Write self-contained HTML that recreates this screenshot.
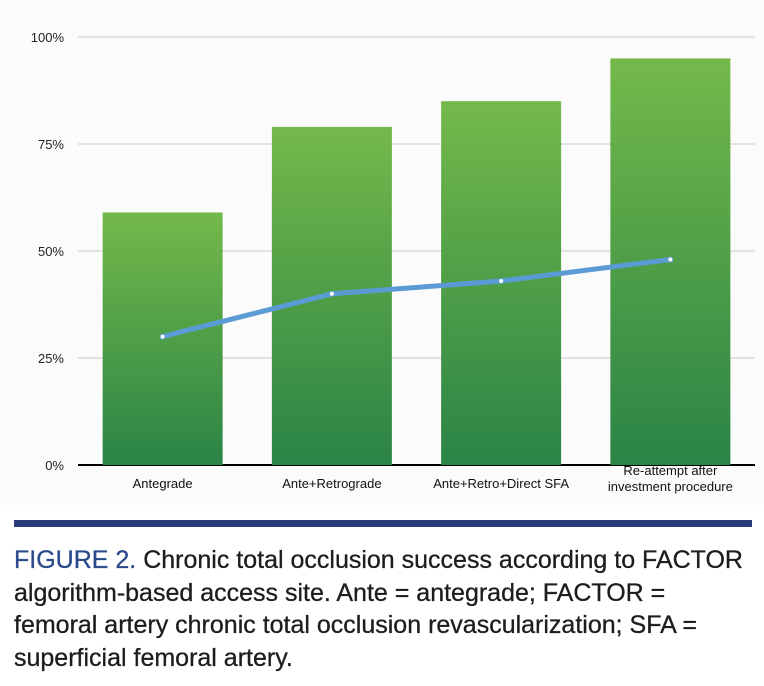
<!DOCTYPE html>
<html><head><meta charset="utf-8"><style>
body{margin:0;width:764px;height:686px;background:#fff;overflow:hidden;font-family:"Liberation Sans",sans-serif}
#chart{position:absolute;left:0;top:0}
#rule{position:absolute;left:14px;top:520px;width:738px;height:7px;background:#2b3b7a}
#cap{position:absolute;left:14px;top:544px;width:750px;font-size:25px;line-height:32.5px;color:#1d1d1d;white-space:nowrap;-webkit-text-stroke:0.3px #1d1d1d}
#cap b{color:#2b4a8b;font-weight:normal;-webkit-text-stroke:0.3px #2b4a8b}
</style></head><body>
<svg id="chart" width="764" height="510">
<defs><linearGradient id="g" x1="0" y1="0" x2="0" y2="1"><stop offset="0" stop-color="#74b94a"/><stop offset="1" stop-color="#2a8446"/></linearGradient></defs>
<rect x="0" y="0" width="764" height="505" fill="#fbfbfb"/>
<g id="grid"></g><g id="bars"></g><g id="line"></g><g id="labels"></g>
</svg>
<div id="rule"></div>
<div id="cap"><b>FIGURE 2.</b> Chronic total occlusion success according to FACTOR<br>algorithm-based access site. Ante = antegrade; FACTOR =<br>femoral artery chronic total occlusion revascularization; SFA =<br>superficial femoral artery.</div>
<script>
const categories=[["Antegrade"],["Ante+Retrograde"],["Ante+Retro+Direct SFA"],["Re-attempt after","investment procedure"]];
const barValues=[59,79,85,95];
const lineValues=[30,40,43,48];
const yTicks=[0,25,50,75,100];
const yTickLabels=["0%","25%","50%","75%","100%"];
const NS="http://www.w3.org/2000/svg";
const x0=78,x1=755,yB=465,yT=37;
const y=v=>yB-(yB-yT)*v/100;
const bw=(x1-x0)/categories.length;
const xc=i=>x0+bw*(i+0.5);
function mk(t,a,p){const e=document.createElementNS(NS,t);for(const k in a)e.setAttribute(k,a[k]);p.appendChild(e);return e;}
const G=document.getElementById('grid'),B=document.getElementById('bars'),L=document.getElementById('line'),T=document.getElementById('labels');
yTicks.forEach((v,i)=>{
 const ln=mk('line',{x1:x0,x2:x1,y1:y(v),y2:y(v),stroke:v===0?'#000':'#c8c8c8','stroke-width':v===0?2:1},G);
 
 
 const t=mk('text',{x:64,y:y(v)+5,'text-anchor':'end','font-size':13,fill:'#222'},T);t.textContent=yTickLabels[i];
 
 
});
barValues.forEach((v,i)=>{
 const r=mk('rect',{x:xc(i)-60,y:y(v),width:120,height:y(0)-y(v),fill:'url(#g)'},B);
 
 
 const lines=categories[i];
 lines.forEach((s,j)=>{
  const t=mk('text',{x:xc(i),y:(lines.length>1?475+j*16:488),'text-anchor':'middle','font-size':13,fill:'#111'},T);t.textContent=s;
  
  
 });
});
const pts=lineValues.map((v,i)=>xc(i)+','+y(v)).join(' ');
const pl=mk('polyline',{points:pts,fill:'none',stroke:'#5b9bd5','stroke-width':5,'stroke-linejoin':'round','stroke-linecap':'round'},L);


lineValues.forEach((v,i)=>{
 const c=mk('circle',{cx:xc(i),cy:y(v),r:2.5,fill:'#fff',stroke:'#5b9bd5','stroke-width':1},L);
 
 
});
</script>
</body></html>
